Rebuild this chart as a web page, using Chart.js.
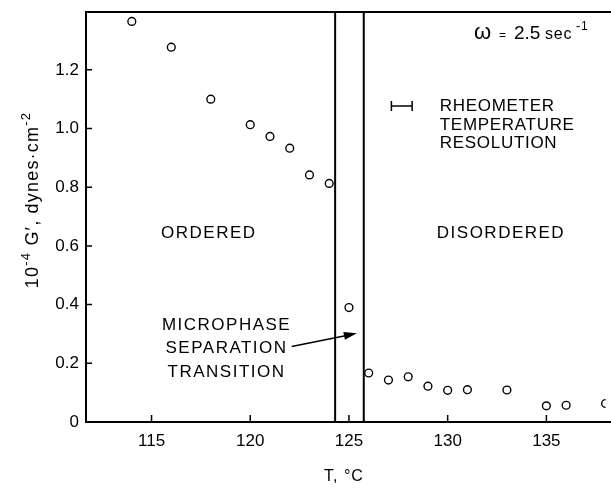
<!DOCTYPE html>
<html>
<head>
<meta charset="utf-8">
<script src="https://cdn.jsdelivr.net/npm/chart.js@4/dist/chart.umd.min.js"></script>
<style>
  html, body { margin: 0; padding: 0; background: #fff; }
</style>
</head>
<body>
<canvas id="chart" width="611" height="488"></canvas>
<script>
// =====================
// Data
// =====================
const temps = [114, 116, 118, 120, 121, 122, 123, 124, 125, 126, 127, 128, 129, 130, 131, 133, 135, 136, 138];
const modulus = [1.365, 1.277, 1.100, 1.013, 0.973, 0.933, 0.842, 0.813, 0.390, 0.167, 0.143, 0.154, 0.122, 0.108, 0.110, 0.109, 0.055, 0.057, 0.063];
const xTicks = [115, 120, 125, 130, 135];
const yTicks = [0, 0.2, 0.4, 0.6, 0.8, 1.0, 1.2];
const transitionBounds = [124.3, 125.75];
const resolutionBar = [127.15, 128.2];
const resolutionLevel = 1.077;

const FONT = '"Liberation Sans", Arial, sans-serif';

// small helper: draw a run of text pieces with superscripts
function drawRich(ctx, parts, x, y) {
    let cx = x;
    parts.forEach(p => {
        ctx.font = p.size + 'px ' + FONT;
        ctx.fillText(p.t, cx, y - (p.up || 0));
        cx += ctx.measureText(p.t).width;
    });
}
function richWidth(ctx, parts) {
    let w = 0;
    parts.forEach(p => {
        ctx.font = p.size + 'px ' + FONT;
        w += ctx.measureText(p.t).width;
    });
    return w;
}

// frame, inward ticks, transition band
const framePlugin = {
    id: 'frame',
    beforeDatasetsDraw(chart) {
        const ctx = chart.ctx;
        const a = chart.chartArea;
        const xs = chart.scales.x, ys = chart.scales.y;
        ctx.save();
        ctx.strokeStyle = '#000';
        ctx.lineWidth = 2;
        ctx.beginPath();
        ctx.moveTo(a.left, a.top); ctx.lineTo(a.left, a.bottom);
        ctx.moveTo(a.left - 1, a.bottom); ctx.lineTo(chart.width, a.bottom);
        ctx.moveTo(a.left - 1, a.top); ctx.lineTo(chart.width, a.top);
        transitionBounds.forEach(t => {
            const px = xs.getPixelForValue(t);
            ctx.moveTo(px, a.top); ctx.lineTo(px, a.bottom);
        });
        ctx.stroke();

        ctx.lineWidth = 1.5;
        ctx.beginPath();
        yTicks.forEach(v => {
            if (v === 0) return;
            const py = ys.getPixelForValue(v);
            ctx.moveTo(a.left, py); ctx.lineTo(a.left + 6, py);
        });
        xTicks.forEach(v => {
            const px = xs.getPixelForValue(v);
            ctx.moveTo(px, a.bottom); ctx.lineTo(px, a.bottom - 7);
        });
        ctx.stroke();
        ctx.restore();
    },
    afterDraw(chart) {
        const ctx = chart.ctx;
        const xs = chart.scales.x, ys = chart.scales.y;
        const X = v => xs.getPixelForValue(v), Y = v => ys.getPixelForValue(v);
        ctx.save();
        ctx.fillStyle = '#000';
        ctx.strokeStyle = '#000';
        ctx.textBaseline = 'middle';

        // region labels
        ctx.letterSpacing = '1.5px';
        ctx.font = '17px ' + FONT;
        ctx.textAlign = 'center';
        ctx.fillText('ORDERED', X(117.9), Y(0.644));
        ctx.fillText('DISORDERED', X(132.7), Y(0.644));
        ['MICROPHASE', 'SEPARATION', 'TRANSITION'].forEach((s, i) => {
            ctx.fillText(s, X(118.8), Y(0.330) + i * 23.5);
        });
        ctx.textAlign = 'left';
        ctx.letterSpacing = '0.7px';
        ['RHEOMETER', 'TEMPERATURE', 'RESOLUTION'].forEach((s, i) => {
            ctx.fillText(s, X(129.6), Y(1.075) + i * 18.5);
        });
        ctx.letterSpacing = '0px';

        // resolution bar
        ctx.lineWidth = 1.5;
        const ry = Y(resolutionLevel);
        const r0 = X(resolutionBar[0]), r1 = X(resolutionBar[1]);
        ctx.beginPath();
        ctx.moveTo(r0, ry); ctx.lineTo(r1, ry);
        ctx.moveTo(r0, ry - 5); ctx.lineTo(r0, ry + 5);
        ctx.moveTo(r1, ry - 5); ctx.lineTo(r1, ry + 5);
        ctx.stroke();

        // arrow to the transition band
        const ax0 = X(122.1), ay0 = Y(0.257), ax1 = X(125.4), ay1 = Y(0.302);
        const ang = Math.atan2(ay1 - ay0, ax1 - ax0);
        ctx.beginPath();
        ctx.moveTo(ax0, ay0); ctx.lineTo(ax1 - 8 * Math.cos(ang), ay1 - 8 * Math.sin(ang));
        ctx.stroke();
        ctx.beginPath();
        ctx.moveTo(ax1, ay1);
        ctx.lineTo(ax1 - 13 * Math.cos(ang) + 4 * Math.sin(ang), ay1 - 13 * Math.sin(ang) - 4 * Math.cos(ang));
        ctx.lineTo(ax1 - 13 * Math.cos(ang) - 4 * Math.sin(ang), ay1 - 13 * Math.sin(ang) + 4 * Math.cos(ang));
        ctx.closePath();
        ctx.fill();

        // omega label
        ctx.textBaseline = 'alphabetic';
        const om = [
            { t: 'ω', size: 22, x: 474 }, { t: '=', size: 12, x: 499 }, { t: '2.5', size: 19, x: 514 },
            { t: 'sec', size: 16, x: 545, ls: '0.8px' }, { t: '-', size: 13, x: 576, up: 9 }, { t: '1', size: 12, x: 581, up: 9 }
        ];
        om.forEach(p => {
            ctx.font = p.size + 'px ' + FONT;
            ctx.letterSpacing = p.ls || '0px';
            ctx.fillText(p.t, p.x, 39 - (p.up || 0));
        });
        ctx.letterSpacing = '0px';

        // y axis title (rotated)
        const yParts = [
            { t: '10', size: 18 }, { t: '-4', size: 13, up: 8 },
            { t: ' G′, dynes·cm', size: 18 }, { t: '-2', size: 13, up: 8 }
        ];
        ctx.save();
        ctx.translate(38, 200);
        ctx.rotate(-Math.PI / 2);
        ctx.letterSpacing = '1.2px';
        drawRich(ctx, yParts, -richWidth(ctx, yParts) / 2, 0);
        ctx.restore();

        // x axis title
        ctx.font = '16px ' + FONT;
        ctx.textAlign = 'center';
        ctx.letterSpacing = '1px';
        ctx.fillText('T, °C', 344, 481);
        ctx.restore();
    }
};

// =====================
// Chart
// =====================
const ctx = document.getElementById('chart').getContext('2d');
new Chart(ctx, {
    type: 'scatter',
    data: {
        datasets: [{
            data: temps.map((t, i) => ({ x: t, y: modulus[i] })),
            pointStyle: 'circle',
            pointRadius: 3.9,
            pointBorderWidth: 1.4,
            pointBorderColor: '#000',
            pointBackgroundColor: '#fff'
        }]
    },
    options: {
        responsive: false,
        animation: false,
        devicePixelRatio: 1,
        layout: { padding: { top: 12, right: 0, left: 0, bottom: 0 } },
        plugins: { legend: { display: false }, tooltip: { enabled: false } },
        scales: {
            x: {
                type: 'linear',
                min: 111.68,
                max: 138.0,
                afterBuildTicks: s => { s.ticks = xTicks.map(v => ({ value: v })); },
                afterFit: s => { s.height = 66; s.paddingLeft = 0; s.paddingRight = 0; },
                grid: { display: false, drawTicks: false },
                border: { display: false },
                ticks: {
                    padding: 9,
                    color: '#000',
                    font: { family: FONT, size: 17 },
                    callback: v => String(v)
                }
            },
            y: {
                type: 'linear',
                min: 0,
                max: 1.397,
                afterBuildTicks: s => { s.ticks = yTicks.map(v => ({ value: v })); },
                afterFit: s => { s.width = 86; s.paddingTop = 0; s.paddingBottom = 0; },
                grid: { display: false, drawTicks: false },
                border: { display: false },
                ticks: {
                    padding: 7,
                    color: '#000',
                    font: { family: FONT, size: 17 },
                    callback: v => v === 0 ? '0' : v.toFixed(1)
                }
            }
        }
    },
    plugins: [framePlugin]
});
</script>
</body>
</html>
